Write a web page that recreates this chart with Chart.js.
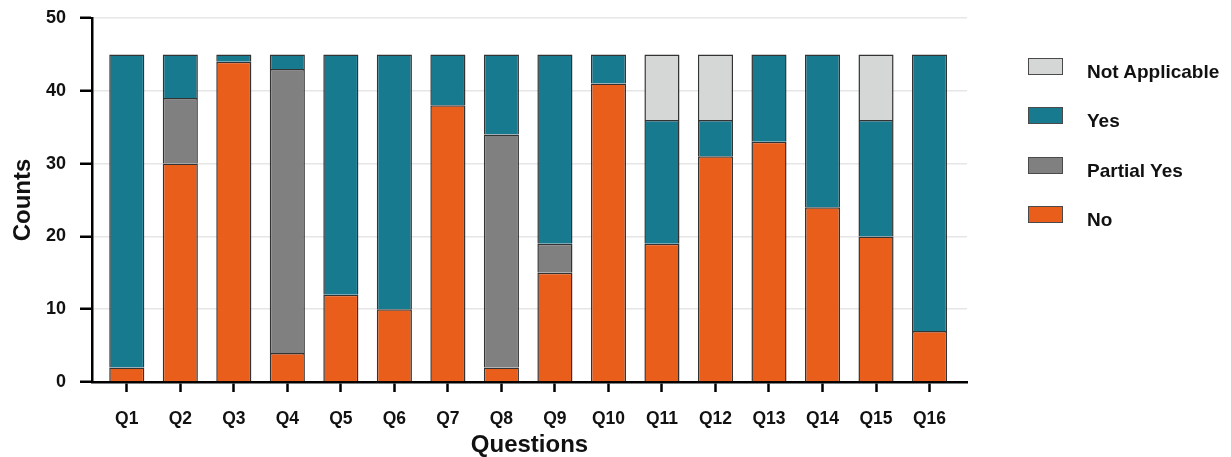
<!DOCTYPE html>
<html lang="en">
<head>
    <meta charset="UTF-8">
    <script src="https://cdn.jsdelivr.net/npm/chart.js"></script>
    <title>Counts per question</title>
    <style>
        body { margin: 0; background: #fff; }
        #wrap { position: relative; width: 1231px; height: 457px; }
        #legend { position: absolute; left: 1028px; top: 58px; font-family: "Liberation Sans", Arial, sans-serif; }
        .item { position: relative; height: 49.3px; }
        .box { position: absolute; left: 0; top: 0; width: 33px; height: 15px; border: 1.5px solid #4a4a4a; }
        .txt { position: absolute; left: 59px; top: 4px; font-size: 19px; font-weight: bold; line-height: 19px; white-space: nowrap; color: #111; }
    </style>
</head>
<body>
<div id="wrap">
    <canvas id="myChart" width="1231" height="457"></canvas>
    <div id="legend"></div>
</div>

<script>
    // datos
    var questions = ['Q1','Q2','Q3','Q4','Q5','Q6','Q7','Q8','Q9','Q10','Q11','Q12','Q13','Q14','Q15','Q16'];
    var noVals      = [2, 30, 44, 4, 12, 10, 38, 2, 15, 41, 19, 31, 33, 24, 20, 7];
    var partialVals = [0, 9, 0, 39, 0, 0, 0, 32, 4, 0, 0, 0, 0, 0, 0, 0];
    var yesVals     = [43, 6, 1, 2, 33, 35, 7, 11, 26, 4, 17, 5, 12, 21, 16, 38];
    var naVals      = [0, 0, 0, 0, 0, 0, 0, 0, 0, 0, 9, 9, 0, 0, 9, 0];
    var yTicks = [0, 10, 20, 30, 40, 50];

    var fontFam = '"Liberation Sans", Arial, sans-serif';

    function toPoints(vals) {
        return vals.map(function (v, i) { return { x: i + 1, y: v }; });
    }

    function makeSet(label, vals, color) {
        return {
            label: label,
            data: toPoints(vals),
            backgroundColor: color,
            borderColor: '#333',
            borderWidth: 1.5,
            barPercentage: 0.82,
            categoryPercentage: 0.8
        };
    }

    var ctx = document.getElementById('myChart').getContext('2d');
    var myChart = new Chart(ctx, {
        type: 'bar',
        data: {
            datasets: [
                makeSet('No', noVals, '#ea5e1c'),
                makeSet('Partial Yes', partialVals, '#808080'),
                makeSet('Yes', yesVals, '#187a8f'),
                makeSet('Not Applicable', naVals, '#d5d6d6')
            ]
        },
        options: {
            responsive: false,
            animation: false,
            layout: { padding: { top: 18, right: 264, left: 0, bottom: 0 } },
            plugins: {
                legend: { display: false },
                tooltip: { enabled: false }
            },
            scales: {
                x: {
                    type: 'linear',
                    stacked: true,
                    offset: false,
                    min: 0.35,
                    max: 16.7,
                    afterFit: function (scale) { scale.height = 75; },
                    border: { color: '#000', width: 2.5 },
                    grid: { offset: false, drawOnChartArea: false, drawTicks: true, tickLength: 10, tickColor: '#000', tickWidth: 2.5 },
                    ticks: {
                        stepSize: 1,
                        includeBounds: false,
                        autoSkip: false,
                        maxRotation: 0,
                        padding: 17,
                        color: '#111',
                        font: { family: fontFam, size: 17.5, weight: 'bold' },
                        callback: function (v) { return questions[v - 1] || ''; }
                    },
                    title: {
                        display: true,
                        text: 'Questions',
                        color: '#111',
                        padding: 0,
                        font: { family: fontFam, size: 24, weight: 'bold', lineHeight: 1 }
                    }
                },
                y: {
                    stacked: true,
                    min: 0,
                    max: 50,
                    afterFit: function (scale) {
                        scale.width = 92;
                        // el padding de los ticks no debe empujar el area hacia abajo
                        scale.paddingTop = 10;
                        scale.paddingBottom = 10;
                    },
                    afterBuildTicks: function (scale) {
                        scale.ticks = yTicks.map(function (v) { return { value: v }; });
                    },
                    border: { color: '#000', width: 2.5 },
                    grid: { color: '#e6e6e6', lineWidth: 1.5, tickLength: 12, tickColor: '#000', tickWidth: 2.5 },
                    ticks: {
                        padding: 14,
                        color: '#111',
                        font: { family: fontFam, size: 18, weight: 'bold' }
                    },
                    title: {
                        display: true,
                        text: 'Counts',
                        color: '#111',
                        padding: { top: 9, bottom: 0 },
                        font: { family: fontFam, size: 24, weight: 'bold', lineHeight: 1.2 }
                    }
                }
            }
        }
    });

    // leyenda en html, orden inverso como en la figura
    var legendDiv = document.getElementById('legend');
    myChart.data.datasets.slice().reverse().forEach(function (ds) {
        var item = document.createElement('div');
        item.className = 'item';
        var box = document.createElement('div');
        box.className = 'box';
        box.style.background = ds.backgroundColor;
        var txt = document.createElement('span');
        txt.className = 'txt';
        txt.textContent = ds.label;
        item.appendChild(box);
        item.appendChild(txt);
        legendDiv.appendChild(item);
    });
</script>
</body>
</html>
